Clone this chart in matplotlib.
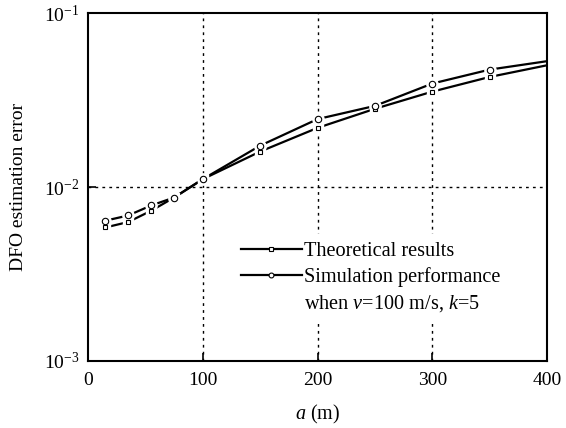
import numpy as np
import matplotlib
matplotlib.use('Agg')
import matplotlib.pyplot as plt
from matplotlib.lines import Line2D

plt.rcParams['font.family'] = 'Liberation Serif'
plt.rcParams['mathtext.fontset'] = 'custom'
plt.rcParams['mathtext.rm'] = 'Liberation Serif'
plt.rcParams['mathtext.it'] = 'Liberation Serif:italic'

# values
a_theory = [15, 35, 55, 75, 100, 150, 200, 250, 300, 350, 400]
err_theory = [0.00585, 0.00629, 0.00730, 0.00870, 0.0111, 0.0160, 0.0219, 0.0282, 0.0354, 0.0430, 0.0502]
a_sim = [15, 35, 55, 75, 100, 150, 200, 250, 300, 350, 400]
err_sim = [0.0064, 0.00686, 0.00783, 0.00870, 0.0111, 0.0173, 0.0246, 0.0293, 0.0394, 0.0474, 0.0530]

x_ticks = [0, 100, 200, 300, 400]
y_ticks = [1e-3, 1e-2, 1e-1]
y_tick_labels = [r'$\mathregular{10^{-3}}$', r'$\mathregular{10^{-2}}$', r'$\mathregular{10^{-1}}$']

fig = plt.figure(figsize=(5.66, 4.28), dpi=100)
ax = fig.add_axes([0.1555, 0.157, 0.811, 0.812])

# lines, then white blobs to open a gap round each marker, then the markers
for x, y, m, ms in [(a_theory, err_theory, 's', 3.4), (a_sim, err_sim, 'o', 4.6)]:
    ax.plot(x, y, color='black', lw=1.6, zorder=3)
    ax.plot(x[:-1], y[:-1], ls='none', marker=m, ms=ms + 3.5, mfc='white', mec='white', zorder=4)
    ax.plot(x[:-1], y[:-1], ls='none', marker=m, ms=ms, mfc='white', mec='black', mew=0.8, zorder=5)

ax.set_yscale('log')
ax.set_xlim(0, 400)
ax.set_ylim(1e-3, 1e-1)
ax.set_xticks(x_ticks)
ax.set_yticks(y_ticks)
ax.set_yticklabels(y_tick_labels)
ax.yaxis.set_minor_locator(matplotlib.ticker.NullLocator())
ax.tick_params(direction='in', length=6, width=1.2, labelsize=14, pad=6)
ax.tick_params(axis='x', pad=8)

for v in [100, 200, 300]:
    ax.axvline(v, color='black', ls=(0, (2, 3)), lw=1, zorder=1)
ax.axhline(1e-2, color='black', ls=(0, (2, 3)), lw=1, zorder=1)

for s in ax.spines.values():
    s.set_linewidth(1.5)

ax.set_xlabel(r'$a$ (m)', fontsize=14.5, labelpad=10)
ax.set_ylabel('DFO estimation error', fontsize=14, labelpad=12)

handles = [
    Line2D([], [], color='black', lw=1.6, marker='s', ms=3, mfc='white', mec='black', mew=0.8),
    Line2D([], [], color='black', lw=1.6, marker='o', ms=3.5, mfc='white', mec='black', mew=0.8),
    Line2D([], [], color='none'),
]
labels = ['Theoretical results', 'Simulation performance', r'when $v$=100 m/s, $k$=5']
leg = ax.legend(handles, labels, loc='upper left', bbox_to_anchor=(0.315, 0.365),
                frameon=True, fontsize=14.6, handlelength=3.0, handletextpad=0.1,
                labelspacing=0.3, borderaxespad=0, borderpad=0.4)
leg.get_frame().set_edgecolor('white')
leg.get_frame().set_facecolor('white')
leg.get_frame().set_alpha(1)
leg.set_zorder(2)

fig.savefig('out.png', dpi=100)
